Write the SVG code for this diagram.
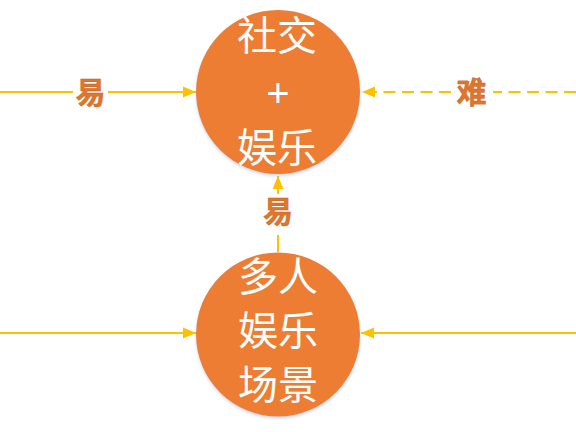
<svg xmlns="http://www.w3.org/2000/svg" width="576" height="432" viewBox="0 0 576 432">
  <defs>
    <marker id="arrow" markerUnits="userSpaceOnUse" markerWidth="14" markerHeight="12" refX="13" refY="6" orient="auto">
      <path d="M0,0.5 L13,6 L0,11.5 Z" fill="#FFC000"/>
    </marker>
    <filter id="glow" x="-20%" y="-20%" width="140%" height="140%">
      <feDropShadow dx="0" dy="2" stdDeviation="1.5" flood-color="#9FB7D9" flood-opacity="0.5"/>
    </filter>
  </defs>
  <style>
    .node { fill: #ED7D31; filter: url(#glow); }
    .ntext { fill: #FFFFFF; font-family: "Noto Sans CJK SC", "Noto Sans", sans-serif; font-size: 40px; text-anchor: middle; }
    .plus { font-family: "Liberation Sans", Arial, sans-serif; font-size: 40px; }
    .conn { stroke: #FFC000; stroke-width: 2; fill: none; }
    .dash { stroke-dasharray: 12 6.5; }
    .lbl { fill: #E0762C; stroke: #B75B1F; stroke-width: 0.4; font-family: "Noto Sans CJK SC", sans-serif; font-size: 30px; font-weight: bold; text-anchor: middle; }
  </style>
  <rect width="576" height="432" fill="#FFFFFF"/>

  <g id="connectors">
    <line class="conn" x1="0" y1="92" x2="73" y2="92"/>
    <line class="conn" x1="108" y1="92" x2="196" y2="92" marker-end="url(#arrow)"/>
    <line class="conn dash" x1="576" y1="92" x2="493" y2="92"/>
    <line class="conn dash" x1="451" y1="92" x2="362" y2="92" marker-end="url(#arrow)"/>
    <line class="conn" x1="278" y1="252" x2="278" y2="235"/>
    <line class="conn" x1="278" y1="194" x2="278" y2="176" marker-end="url(#arrow)"/>
    <line class="conn" x1="0" y1="333" x2="196" y2="333" marker-end="url(#arrow)"/>
    <line class="conn" x1="576" y1="333" x2="361" y2="333" marker-end="url(#arrow)"/>
    <text class="lbl" x="90.5" y="103">易</text>
    <text class="lbl" x="471.5" y="103">难</text>
    <text class="lbl" x="278" y="222">易</text>
  </g>

  <g id="node-social">
    <circle class="node" cx="278" cy="92" r="82"/>
    <text class="ntext" x="277" y="50">社交</text>
    <text class="ntext plus" x="278" y="107">+</text>
    <text class="ntext" x="277" y="162">娱乐</text>
  </g>

  <g id="node-multiplayer">
    <circle class="node" cx="278" cy="334.5" r="82"/>
    <text class="ntext" x="278" y="291">多人</text>
    <text class="ntext" x="278" y="345">娱乐</text>
    <text class="ntext" x="278" y="399">场景</text>
  </g>
</svg>
